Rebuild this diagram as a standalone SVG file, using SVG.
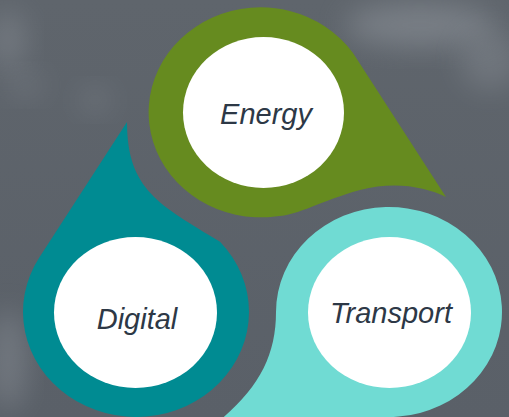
<svg xmlns="http://www.w3.org/2000/svg" width="509" height="417" viewBox="0 0 509 417">
  <defs>
    <filter id="blur" x="-50%" y="-50%" width="200%" height="200%">
      <feGaussianBlur stdDeviation="14"/>
    </filter>
    <linearGradient id="bg" x1="0" y1="0" x2="0" y2="1">
      <stop offset="0" stop-color="#5f656c"/>
      <stop offset="1" stop-color="#5a6068"/>
    </linearGradient>
  </defs>
  <style>
    .label { font-family: "Liberation Sans", Arial, sans-serif; font-style: italic; font-size: 29px; fill: #2d3846; text-anchor: middle; }
    .inner { fill: #ffffff; }
    .cloud { fill: #8a9097; filter: url(#blur); }
  </style>

  <g id="background">
    <rect width="509" height="417" fill="url(#bg)"/>
    <ellipse class="cloud" cx="420" cy="25" rx="75" ry="22" opacity="0.6"/>
    <ellipse class="cloud" cx="490" cy="60" rx="30" ry="30" opacity="0.4"/>
    <ellipse class="cloud" cx="8" cy="40" rx="18" ry="30" opacity="0.45"/>
    <ellipse class="cloud" cx="25" cy="85" rx="20" ry="12" opacity="0.3"/>
    <ellipse class="cloud" cx="95" cy="100" rx="16" ry="12" opacity="0.35"/>
    <ellipse class="cloud" cx="8" cy="360" rx="18" ry="50" opacity="0.5"/>
    <ellipse class="cloud" cx="250" cy="170" rx="12" ry="30" opacity="0.25"/>
  </g>

  <g id="energy">
    <path fill="#668b1f" d="M446,197 L353,53 A112 105 0 1 0 275,216.5 C300,215 320,201 360,190 C395,181 425,187 446,197 Z"/>
    <ellipse class="inner" cx="263.5" cy="112.5" rx="80.5" ry="75.5"/>
    <text class="label" x="266" y="124">Energy</text>
  </g>

  <g id="digital">
    <path fill="#008b92" d="M127,122 L39.3,257.6 A113 105 0 1 0 220,241.7 C160,205 127,190 127,122 Z"/>
    <ellipse class="inner" cx="135.5" cy="312.5" rx="81.5" ry="75.5"/>
    <text class="label" x="137" y="329">Digital</text>
  </g>

  <g id="transport">
    <path fill="#70dbd3" d="M276,312 A113 105 0 1 1 398.6,416.6 L205,432 C255,395 276,360 276,312 Z"/>
    <ellipse class="inner" cx="389.5" cy="312.5" rx="81.5" ry="75.5"/>
    <text class="label" x="391" y="323">Transport</text>
  </g>

  <g id="connectors"/>
</svg>
